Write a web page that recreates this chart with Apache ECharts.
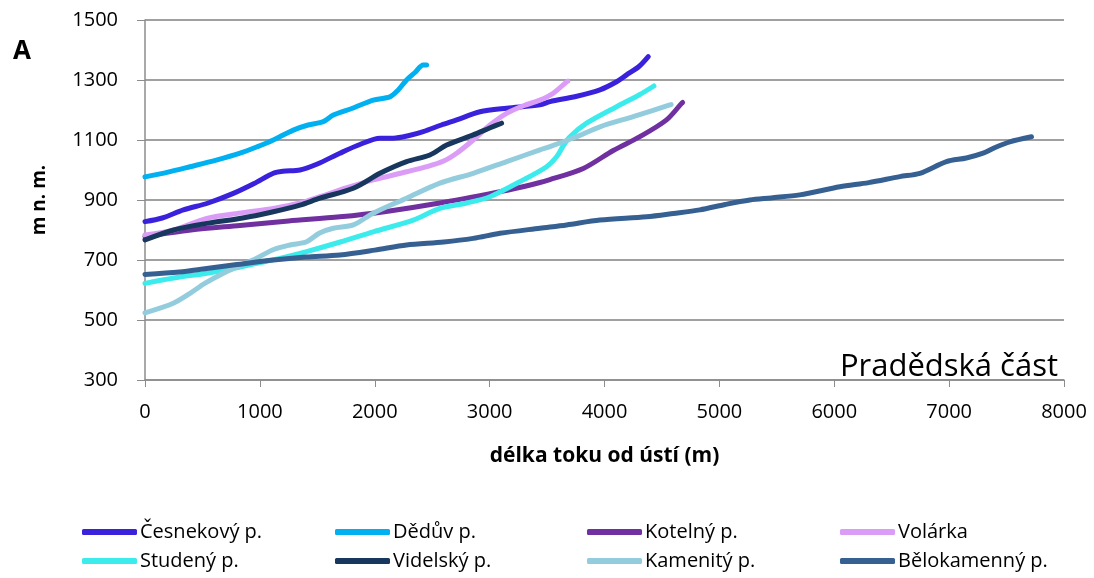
<!DOCTYPE html>
<html>
<head>
<meta charset="utf-8">
<script src="https://cdn.jsdelivr.net/npm/echarts@6/dist/echarts.min.js"></script>
<style>
  html, body { margin: 0; padding: 0; background: #fff; }
  #chart { width: 1094px; height: 578px; }
</style>
</head>
<body>
<div id="chart"></div>
<script>
// Longitudinal profiles of streams: distance from mouth (m) vs. altitude (m n. m.)
const seriesNames = ['Česnekový p.', 'Dědův p.', 'Kotelný p.', 'Volárka',
                     'Studený p.', 'Videlský p.', 'Kamenitý p.', 'Bělokamenný p.'];
const seriesColors = ['#3A22DD', '#00B0F0', '#7030A0', '#DA9CF7',
                      '#3CEBEB', '#17375E', '#93CDDD', '#366092'];

const cesnekovy = [[0,828],[150,840],[334,867],[550,890],[769,922],[950,955],[1117,989],[1200,996],[1349,1000],[1500,1020],[1697,1056],[1870,1085],[2045,1106],[2161,1106],[2300,1115],[2422,1128],[2580,1150],[2713,1167],[2916,1194],[3148,1206],[3438,1217],[3525,1228],[3750,1245],[3960,1267],[4105,1294],[4192,1317],[4300,1345],[4381,1378]];
const deduv = [[0,977],[200,993],[392,1011],[620,1033],[827,1056],[980,1078],[1117,1100],[1291,1133],[1420,1150],[1552,1161],[1639,1183],[1800,1205],[1987,1233],[2132,1244],[2200,1265],[2277,1300],[2350,1325],[2422,1350],[2451,1350]];
const kotelny = [[0,778],[400,800],[827,815],[1250,830],[1697,844],[2100,862],[2567,890],[3090,928],[3300,945],[3525,968],[3815,1005],[4076,1065],[4308,1111],[4540,1167],[4671,1222],[4680,1225]];
const volarka = [[0,783],[250,800],[537,839],[850,858],[1117,872],[1350,890],[1523,911],[1750,940],[1987,967],[2277,994],[2452,1011],[2600,1030],[2713,1056],[2857,1100],[3003,1150],[3148,1189],[3300,1215],[3438,1233],[3554,1256],[3670,1294],[3680,1296]];
const studeny = [[0,622],[250,640],[537,656],[750,670],[972,689],[1200,708],[1407,728],[1700,760],[1987,794],[2335,833],[2567,872],[2800,890],[3003,911],[3293,967],[3496,1011],[3583,1044],[3640,1080],[3699,1111],[3844,1156],[4105,1211],[4300,1250],[4430,1280]];
const videlsky = [[0,767],[250,800],[537,822],[850,840],[1117,861],[1349,883],[1523,906],[1813,939],[2045,989],[2277,1028],[2480,1050],[2626,1083],[2857,1117],[3000,1140],[3104,1156]];
const kamenity = [[0,524],[246,556],[392,589],[520,622],[682,656],[820,680],[972,706],[1120,735],[1262,750],[1407,761],[1520,790],[1639,806],[1813,817],[1987,856],[2277,906],[2567,956],[2857,989],[3148,1028],[3438,1067],[3525,1078],[3750,1110],[3960,1144],[4250,1178],[4569,1217],[4580,1218]];
const belokamenny = [[0,652],[300,660],[537,672],[800,685],[1117,700],[1400,710],[1697,717],[2000,733],[2277,750],[2600,760],[2857,772],[3090,789],[3438,806],[3670,817],[3960,833],[4366,844],[4600,855],[4830,867],[5050,885],[5265,900],[5450,907],[5700,917],[6049,944],[6300,958],[6571,978],[6745,989],[6977,1028],[7150,1040],[7296,1056],[7400,1075],[7528,1094],[7717,1111]];

const seriesData = [cesnekovy, deduv, kotelny, volarka, studeny, videlsky, kamenity, belokamenny];

const xTicks = { min: 0, max: 8000, step: 1000 };
const yTicks = { min: 300, max: 1500, step: 200 };

const fontMain = '"Open Sans", "Liberation Sans", sans-serif';

const chart = echarts.init(document.getElementById('chart'), null, { renderer: 'canvas' });

// one legend block per entry so the entries sit on a fixed 4-column layout
const legendCols = [82, 335, 587, 840];
const legendRows = [520, 549];
const legends = seriesNames.map((name, i) => ({
  data: [name],
  left: legendCols[i % 4],
  top: legendRows[Math.floor(i / 4)],
  icon: 'roundRect',
  itemWidth: 55,
  itemHeight: 6,
  itemGap: 0,
  padding: 0,
  selectedMode: false,
  textStyle: { fontFamily: fontMain, fontSize: 20, lineHeight: 24, color: '#000', padding: [0, 0, 0, -2] }
}));

chart.setOption({
  animation: false,
  backgroundColor: '#fff',
  grid: { left: 145, right: 30, top: 20, bottom: 198, containLabel: false },
  legend: legends,
  xAxis: {
    type: 'value',
    min: xTicks.min, max: xTicks.max, interval: xTicks.step,
    name: 'délka toku od ústí (m)',
    nameLocation: 'middle',
    nameGap: 66,
    nameTextStyle: { fontFamily: fontMain, fontSize: 21, fontWeight: 'bold', color: '#000' },
    axisLine: { show: true, lineStyle: { color: '#8C8C8C', width: 1.5 } },
    axisTick: { show: true, inside: false, length: 7, lineStyle: { color: '#8C8C8C' } },
    axisLabel: { fontFamily: fontMain, fontSize: 20, color: '#000', margin: 22, formatter: v => String(v) },
    splitLine: { show: false }
  },
  yAxis: {
    type: 'value',
    min: yTicks.min, max: yTicks.max, interval: yTicks.step,
    name: 'm n. m.',
    nameLocation: 'middle',
    nameGap: 96,
    nameRotate: 90,
    nameTextStyle: { fontFamily: fontMain, fontSize: 19, fontWeight: 'bold', color: '#000' },
    axisLine: { show: true, lineStyle: { color: '#8C8C8C', width: 1.5 } },
    axisTick: { show: true, inside: false, length: 8, lineStyle: { color: '#8C8C8C' } },
    axisLabel: { fontFamily: fontMain, fontSize: 20, color: '#000', margin: 27, formatter: v => String(v) },
    splitLine: { show: true, lineStyle: { color: '#A0A0A0', width: 2 } }
  },
  graphic: [
    {
      type: 'text', x: 22, y: 52,
      style: { text: 'A', fontFamily: fontMain, fontSize: 26, fontWeight: 'bold', fill: '#000', align: 'center', verticalAlign: 'middle' }
    },
    {
      type: 'text', x: 1058, y: 367,
      style: { text: 'Pradědská část', fontFamily: fontMain, fontSize: 31, fill: '#000', align: 'right', verticalAlign: 'middle' }
    }
  ],
  series: seriesNames.map((name, i) => ({
    name: name,
    type: 'line',
    data: seriesData[i],
    showSymbol: false,
    symbol: 'none',
    smooth: 0.3,
    color: seriesColors[i],
    lineStyle: { width: 5, color: seriesColors[i], cap: 'round', join: 'round' },
    emphasis: { disabled: true }
  }))
});
</script>
</body>
</html>
